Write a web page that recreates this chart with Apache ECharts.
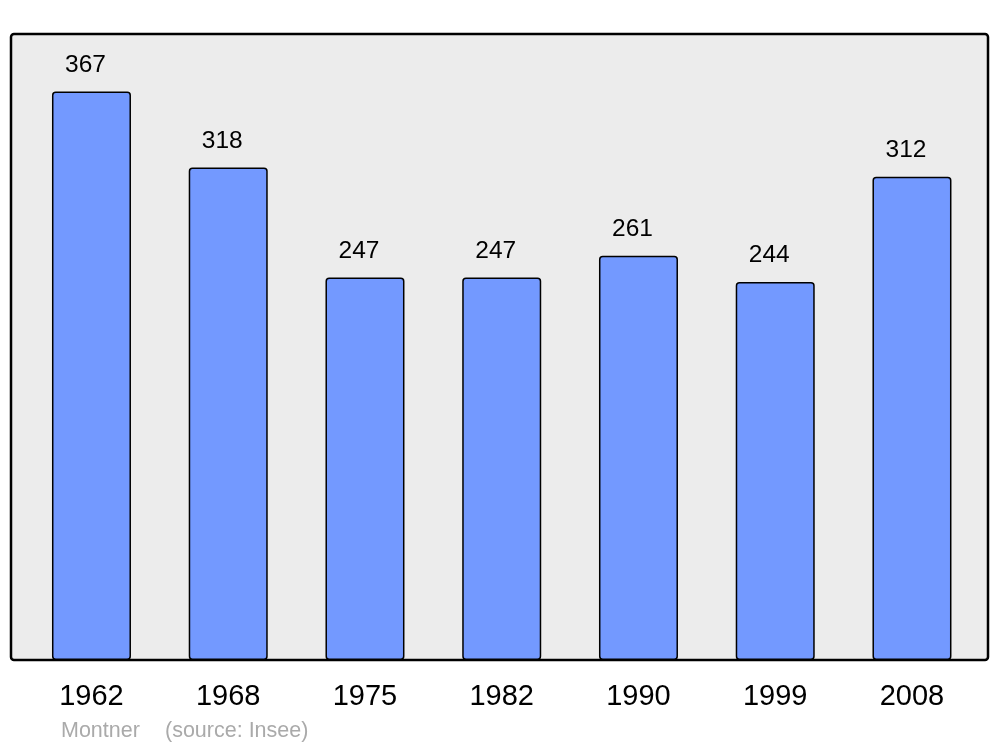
<!DOCTYPE html>
<html>
<head>
<meta charset="utf-8">
<script src="https://cdn.jsdelivr.net/npm/echarts@6/dist/echarts.min.js"></script>
<style>
html,body{margin:0;padding:0;background:#fff;}
#chart{width:1000px;height:747px;}
</style>
</head>
<body>
<div id="chart"></div>
<script>
const categories = ['1962', '1968', '1975', '1982', '1990', '1999', '2008'];
const population = [367, 318, 247, 247, 261, 244, 312];
const commune = 'Montner';
const source = '(source: Insee)';

const chart = echarts.init(document.getElementById('chart'), null, {renderer: 'canvas'});
const font = 'Liberation Sans, Arial, sans-serif';
chart.setOption({
  animation: false,
  backgroundColor: '#ffffff',
  graphic: [
    {type: 'rect', z: -10, shape: {x: 11, y: 34, width: 977, height: 626, r: 3},
     style: {fill: '#ececec', stroke: '#000', lineWidth: 2.5}},
    {type: 'text', x: 61, y: 731, style: {text: commune, fill: '#aaaaaa', font: '21.5px ' + font, textVerticalAlign: 'middle'}},
    {type: 'text', x: 165, y: 731, style: {text: source, fill: '#aaaaaa', font: '21.5px ' + font, textVerticalAlign: 'middle'}}
  ],
  grid: {left: 23.1, width: 957.25, top: 40.4, bottom: 87, containLabel: false},
  xAxis: {
    type: 'category', data: categories,
    axisLine: {show: false}, axisTick: {show: false}, splitLine: {show: false},
    axisLabel: {fontSize: 29, color: '#000', fontFamily: font, margin: 22}
  },
  yAxis: {type: 'value', min: 0, max: 400, show: false, splitLine: {show: false}},
  series: [{
    type: 'bar', data: population, barWidth: 79,
    itemStyle: {color: '#7399ff', borderColor: '#000', borderWidth: 1.5, borderRadius: 3},
    label: {show: true, position: 'top', distance: 14, offset: [-6, 0], fontSize: 24.5, color: '#000', fontFamily: font}
  }]
});
</script>
</body>
</html>
